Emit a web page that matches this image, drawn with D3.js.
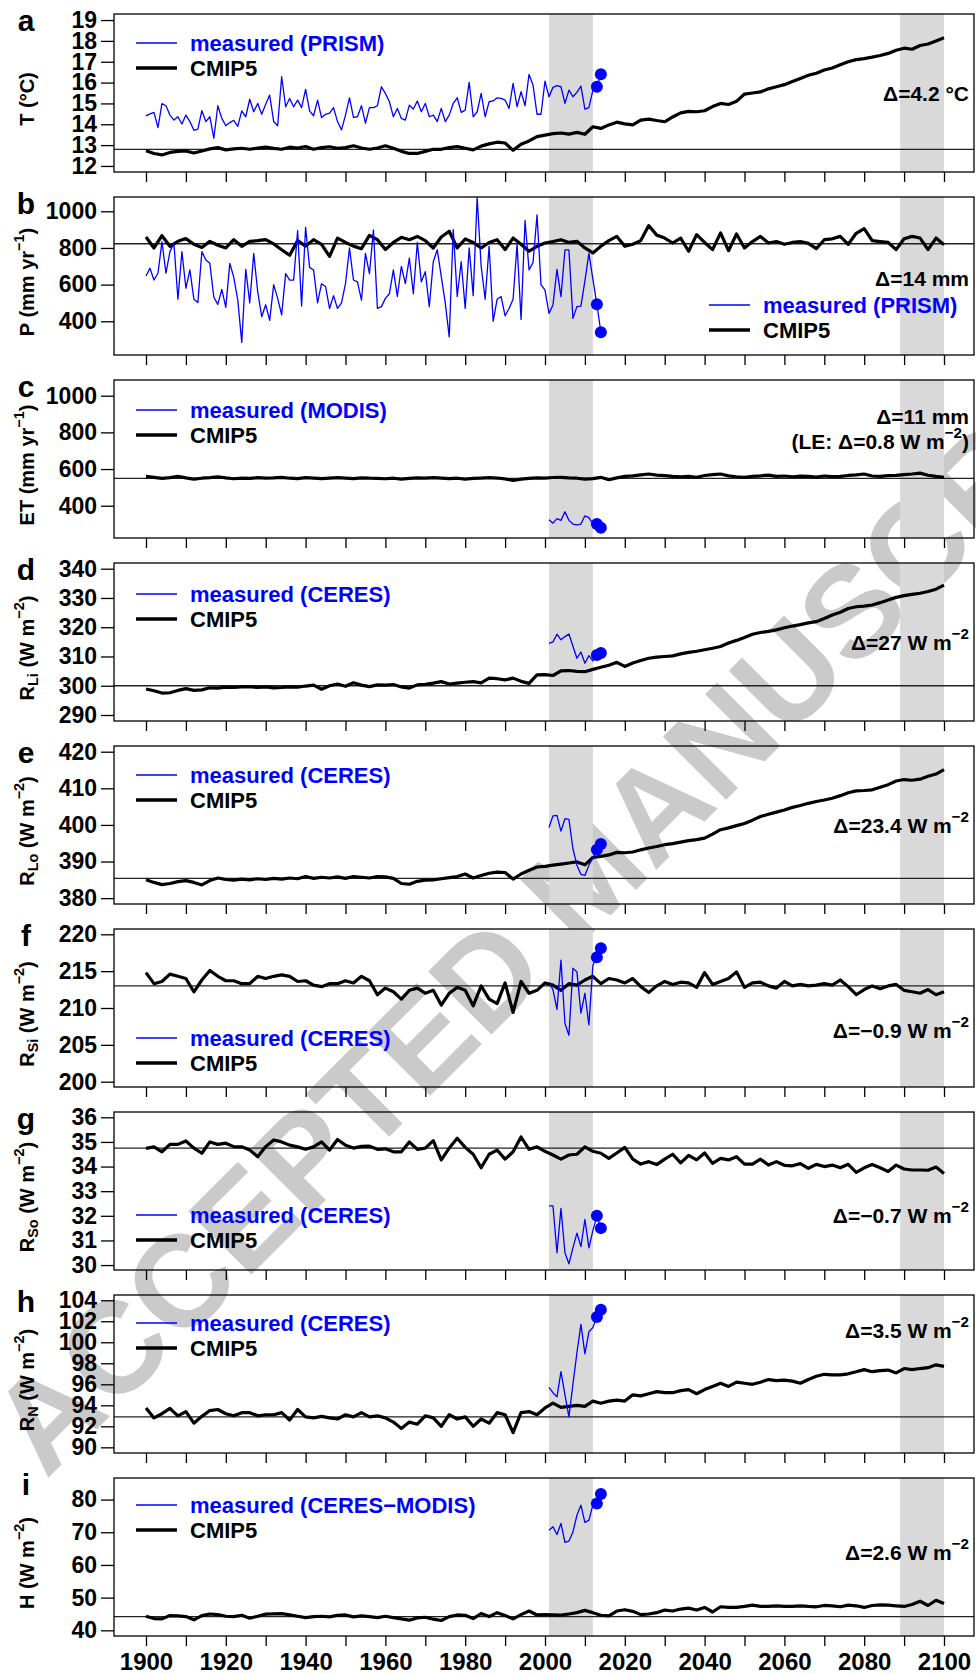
<!DOCTYPE html>
<html>
<head>
<meta charset="utf-8">
<script src="https://cdnjs.cloudflare.com/ajax/libs/d3/7.8.5/d3.min.js"></script>
<style>
  body { margin: 0; background: #fff; }
  svg { display: block; font-family: "Liberation Sans", Arial, sans-serif; }
</style>
</head>
<body>
<div id="chart"></div>
<script>
// ---------------- data ----------------
// CMIP5 ensemble, every second year 1900..2100
const cmipYears = d3.range(1900, 2101, 2);

const tempCmip = [
  12.73, 12.6, 12.53, 12.65, 12.7, 12.72, 12.62, 12.72, 12.82, 12.88,
  12.77, 12.82, 12.85, 12.8, 12.86, 12.9, 12.84, 12.8, 12.9, 12.86,
  12.93, 12.8, 12.88, 12.92, 12.85, 12.88, 12.97, 12.86, 12.8, 12.86,
  12.97, 12.85, 12.7, 12.6, 12.6, 12.7, 12.8, 12.8, 12.88, 12.93,
  12.85, 12.77, 12.95, 13.06, 13.14, 13.1, 12.75, 13.04, 13.2, 13.41,
  13.48, 13.55, 13.58, 13.53, 13.61, 13.52, 13.88, 13.8, 13.97, 14.1,
  14.02, 13.97, 14.2, 14.25, 14.18, 14.12, 14.35, 14.55, 14.62, 14.6,
  14.65, 14.85, 15.0, 14.95, 15.1, 15.45, 15.5, 15.55, 15.7, 15.8,
  15.9, 16.05, 16.2, 16.35, 16.45, 16.6, 16.7, 16.85, 17.0, 17.1,
  17.15, 17.22, 17.3, 17.4, 17.55, 17.65, 17.6, 17.78, 17.85, 18.0,
  18.15
];
const precipCmip = [
  860, 800, 867, 809, 836, 851, 820, 803, 836, 815,
  800, 845, 809, 836, 840, 845, 822, 790, 760, 840,
  810, 845, 820, 754, 854, 830, 810, 796, 869, 845,
  791, 830, 858, 845, 863, 840, 800, 860, 891, 800,
  849, 830, 800, 830, 845, 791, 854, 820, 782, 809,
  827, 835, 845, 830, 836, 800, 773, 809, 840, 863,
  809, 820, 840, 922, 870, 854, 827, 854, 782, 873,
  830, 791, 882, 785, 876, 800, 835, 863, 827, 835,
  820, 830, 835, 825, 796, 845, 850, 863, 820, 880,
  905, 840, 835, 830, 791, 850, 863, 854, 791, 854,
  818
];
const etCmip = [
  560, 555, 549, 553, 560, 552, 545, 550, 553, 558,
  552, 547, 551, 549, 553, 550, 552, 555, 550, 548,
  553, 551, 548, 551, 553, 551, 548, 552, 550, 549,
  547, 550, 545, 549, 552, 550, 553, 551, 548, 550,
  545, 549, 551, 553, 551, 546, 538, 545, 549, 552,
  551, 554, 555, 552, 550, 545, 548, 555, 542, 552,
  560, 563, 568, 573, 567, 564, 560, 558, 560, 555,
  565, 570, 573, 563, 558, 555, 560, 563, 567, 560,
  562, 558, 561, 560, 556, 562, 559, 560, 565, 568,
  573, 562, 560, 564, 566, 570, 573, 578, 566, 560,
  555
];
const rliCmip = [
  298.9, 298.3, 297.5, 297.6, 298.4, 299.0, 298.4, 298.6, 299.3, 299.2,
  299.5, 299.4, 299.6, 299.7, 299.4, 299.6, 299.3, 299.4, 299.6, 299.5,
  299.9, 300.2, 298.8, 300.0, 300.6, 299.8, 301.0, 300.2, 299.7, 300.3,
  300.2, 300.4, 299.6, 299.2, 300.3, 300.5, 300.9, 301.4, 300.6, 300.9,
  301.2, 301.4, 301.0, 302.6, 302.4, 302.0, 302.6, 301.5, 300.8, 303.7,
  303.8, 303.5, 305.1, 305.2, 304.9, 304.8, 305.6, 306.3, 307.0, 308.0,
  306.6, 307.8, 308.6, 309.4, 309.8, 310.0, 310.2, 310.9, 311.4, 311.8,
  312.3, 312.8, 313.4, 314.6, 315.5, 316.5, 317.6, 318.2, 318.6, 319.1,
  319.8, 320.4, 320.9, 321.5, 321.9, 323.0, 324.2, 325.1, 326.4, 327.0,
  327.2, 327.6, 328.4, 329.3, 330.2, 330.8, 331.2, 331.6, 332.2, 333.0,
  334.4
];
const rloCmip = [
  385.0, 384.3, 383.7, 384.0, 384.5, 384.8, 384.3, 383.6, 384.8, 385.5,
  385.1, 384.9, 385.2, 385.0, 385.3, 385.1, 385.4, 385.2, 385.5, 385.3,
  385.9, 385.4, 385.7, 385.5, 385.8, 385.4, 385.9, 385.7, 385.5, 385.9,
  385.8, 385.4, 384.0, 383.8, 384.6, 384.9, 385.0, 385.3, 385.6, 385.9,
  386.6, 385.5, 386.2, 386.8, 387.1, 387.0, 385.2, 386.6, 387.6, 388.5,
  388.7, 389.0, 389.3, 389.6, 389.9, 389.1, 391.1, 391.4, 391.8, 392.5,
  392.4, 392.6, 393.2, 393.7, 394.1, 394.6, 394.9, 395.3, 395.7, 396.0,
  396.4, 397.5, 398.7, 399.2, 399.8, 400.4, 401.3, 402.3, 402.9, 403.5,
  404.1, 404.8, 405.3, 405.9, 406.4, 406.8, 407.3, 408.0, 408.8, 409.3,
  409.4, 409.6, 410.3, 411.0, 412.0, 412.4, 412.2, 412.5, 413.3, 413.9,
  415.1
];
const rsiCmip = [
  214.8, 213.3, 213.6, 214.6, 214.3, 214.0, 212.2, 213.8, 215.1, 214.3,
  213.7, 213.7, 213.3, 213.3, 214.3, 214.0, 214.3, 214.5, 214.3, 213.6,
  213.7, 213.1, 212.9, 213.3, 213.3, 213.7, 213.4, 214.3, 213.7, 211.8,
  212.7, 212.2, 211.2, 212.4, 212.7, 212.0, 212.4, 210.4, 212.0, 212.8,
  212.4, 210.3, 213.0, 211.2, 210.6, 213.4, 209.4, 213.6, 212.0, 212.4,
  213.4, 213.1, 212.4, 213.3, 213.1, 213.8, 214.3, 213.3, 214.0, 213.8,
  213.4, 214.0, 212.9, 212.1, 213.0, 213.6, 213.2, 213.5, 213.4, 212.8,
  214.8, 213.2, 213.6, 214.0, 214.9, 212.8, 213.4, 213.5, 213.0, 212.7,
  213.6, 213.0, 213.2, 213.0, 213.1, 213.3, 213.1, 213.8, 212.9, 211.8,
  212.5, 213.0, 212.6, 213.0, 213.2, 212.4, 212.2, 212.0, 212.5, 211.8,
  212.2
];
const rsoCmip = [
  34.74, 34.8, 34.6, 34.9, 34.9, 35.04, 34.75, 34.54, 35.0, 34.9,
  34.95, 34.81, 34.8, 34.67, 34.4, 34.81, 35.08, 35.0, 34.87, 34.8,
  34.7, 34.8, 35.0, 34.67, 35.1, 34.87, 34.75, 34.82, 34.83, 34.7,
  34.72, 34.6, 34.6, 35.0, 34.7, 34.75, 35.05, 34.27, 34.75, 35.15,
  34.78, 34.5, 33.95, 34.5, 34.67, 34.3, 34.6, 35.2, 34.7, 34.8,
  34.62, 34.47, 34.3, 34.47, 34.5, 34.8, 34.62, 34.54, 34.33, 34.55,
  34.78, 34.3, 34.1, 34.2, 34.08, 34.3, 34.5, 34.15, 34.45, 34.27,
  34.55, 34.13, 34.33, 34.27, 34.4, 34.1, 34.1, 34.3, 34.06, 34.2,
  34.05, 34.03, 34.12, 33.93, 34.09, 34.0, 34.06, 33.95, 34.09, 33.76,
  33.95, 34.08, 33.95, 33.8, 34.06, 33.9, 33.86, 33.86, 33.85, 33.98,
  33.72
];
const rnCmip = [
  93.75, 92.8, 93.2, 93.7, 93.0, 93.4, 92.3, 92.95, 93.5, 93.6,
  93.2, 93.0, 93.3, 93.3, 93.0, 93.1, 93.1, 93.3, 92.6, 93.6,
  92.9, 92.8, 92.95, 92.8, 92.7, 93.1, 92.9, 93.3, 92.9, 93.0,
  92.8, 92.4, 91.8, 92.4, 92.2, 93.0, 92.8, 92.0, 93.1, 92.7,
  92.9, 92.0, 92.7, 92.3, 93.3, 93.1, 91.4, 93.3, 93.4, 93.1,
  93.75, 94.2, 93.8, 93.9, 94.0, 93.9, 94.4, 94.2, 94.4, 94.5,
  94.4, 95.0, 94.9, 95.1, 95.3, 95.2, 95.2, 95.4, 95.5, 95.1,
  95.5, 95.8, 96.1, 95.8, 96.2, 96.1, 96.0, 96.2, 96.45, 96.35,
  96.4, 96.3, 96.1, 96.45, 96.76, 96.95, 96.9, 96.9, 97.0, 97.2,
  97.4, 97.2, 97.3, 97.35, 97.08, 97.5, 97.4, 97.5, 97.58, 97.85,
  97.7
];
const hCmip = [
  44.3, 43.6, 43.5, 44.5, 44.4, 44.2, 43.2, 44.5, 45.0, 44.8,
  44.3, 44.2, 44.6, 43.7, 44.3, 44.95, 45.0, 45.1, 44.7, 44.3,
  43.9, 44.2, 44.3, 44.1, 44.6, 44.7, 44.1, 44.4, 44.2, 43.9,
  44.3, 43.9, 43.5, 43.1, 43.8, 44.0, 43.4, 43.0, 44.2, 44.7,
  44.6, 43.6, 45.15, 44.2, 45.4, 44.5, 43.5, 44.8, 45.9, 44.7,
  44.8, 44.7, 44.65, 45.0, 45.4, 46.1, 45.4, 44.6, 44.4, 45.9,
  46.3, 45.8, 44.8, 45.0, 45.4, 46.2, 45.9, 46.5, 46.8, 46.2,
  47.0, 45.6, 47.2, 47.0, 47.0, 47.3, 47.7, 47.3, 47.3, 47.5,
  47.3, 47.3, 47.5, 47.3, 47.2, 47.6, 47.5, 47.2, 47.7, 47.5,
  47.0, 47.6, 47.8, 47.7, 47.5, 47.3, 47.9, 48.9, 47.6, 49.2,
  48.2
];

// measured series; the last two years are also drawn as dots
const prismYears = d3.range(1900, 2015);
const satYears = d3.range(2001, 2015);

const tempMeas = [
  14.40, 14.5, 14.57, 13.84, 14.99, 14.89, 14.44, 14.20, 14.36, 14.01,
  14.44, 14.13, 13.71, 13.77, 14.65, 14.13, 14.36, 13.33, 14.89, 14.28,
  13.93, 14.08, 14.19, 13.90, 14.64, 14.36, 15.2, 14.6, 15.0, 14.48,
  14.96, 15.4, 14.13, 13.93, 16.28, 14.84, 15.24, 14.84, 15.16, 14.8,
  15.67, 14.64, 14.41, 15.16, 14.32, 14.48, 14.53, 14.8, 14.13, 13.73,
  14.44, 15.27, 14.33, 14.36, 14.89, 14.05, 14.8, 14.8, 14.89, 15.8,
  15.48, 15.08, 14.36, 14.76, 14.28, 14.2, 14.92, 14.73, 15.12, 14.6,
  15.0, 14.36, 14.44, 14.13, 14.76, 14.13, 14.44, 15.0, 15.27, 14.57,
  14.68, 16.01, 14.36, 14.6, 15.48, 14.36, 15.08, 15.12, 15.27, 15.24,
  15.16, 14.76, 15.96, 14.84, 15.56, 14.89, 16.39, 15.88, 14.48, 14.48,
  16.07, 15.32, 15.77, 15.85, 15.8, 15.0, 15.64, 15.32, 15.53, 15.83,
  14.73, 14.8, 15.64, 15.8, 16.4
];
const precipMeas = [
  647, 689, 625, 662, 834, 662, 780, 825, 520, 780,
  580, 680, 520, 502, 780, 734, 716, 531, 492, 574,
  476, 716, 640, 516, 285, 683, 500, 770, 560, 425,
  490, 405, 600, 525, 435, 660, 625, 625, 894, 483,
  912, 694, 680, 500, 605, 590, 470, 540, 470, 500,
  605, 800, 625, 615, 515, 770, 660, 898, 470, 480,
  525, 550, 680, 535, 700, 605, 745, 550, 830, 615,
  670, 480, 725, 790, 645, 500, 315, 900, 535, 725,
  470, 800, 540, 1075, 700, 520, 810, 400, 520, 535,
  430, 470, 520, 820, 410, 950, 680, 720, 980, 600,
  570, 443, 489, 683, 534, 789, 789, 416, 480, 483,
  620, 770, 630, 493, 340
];
const etMeas  = [324, 305, 330, 320, 367, 320, 300, 295, 300, 345, 335, 300, 300, 280];
const rliMeas = [314.5, 315, 317.6, 315.7, 316.8, 317.7, 313.5, 309.4, 311.5, 307.7, 310.3, 308.5, 310.5, 311.2];
const rloMeas = [399.3, 402.5, 402.6, 398.3, 401.7, 401.5, 393.5, 389.0, 386.5, 386.2, 389.0, 391.0, 393.2, 394.8];
const rsiMeas = [213.5, 212.5, 209.8, 216.5, 207.9, 206.3, 215.4, 214.9, 209.3, 212.0, 207.7, 215.8, 216.9, 218.1];
const rsoMeas = [32.4, 32.4, 30.5, 32.3, 30.5, 30.05, 30.7, 31.3, 30.75, 31.85, 30.7, 31.4, 32.0, 31.5];
const rnMeas  = [95.7, 95.2, 94.8, 97.2, 95.0, 92.9, 96.0, 99.0, 101.7, 98.9, 101.0, 101.4, 102.4, 103.1];
const hMeas   = [70.6, 71.7, 69.3, 72.7, 66.9, 67.3, 70.1, 75.2, 78.3, 73.0, 73.7, 78.3, 78.8, 81.7];

// horizontal reference level of each panel
const refLevels = [12.8, 823, 549, 300, 385.4, 213.0, 34.75, 92.9, 44.2];

// axis ranges and tick labels
const yRanges = [
  [11.71, 19.29], [216, 1078], [224, 1085.6], [287.95, 341.95], [378.4, 421.56],
  [199.28, 220.72], [29.8, 36.215], [89.46, 104.5], [38.26, 86.6]
];
const yTickLabels = [
  [12, 13, 14, 15, 16, 17, 18, 19],
  [400, 600, 800, 1000],
  [400, 600, 800, 1000],
  [290, 300, 310, 320, 330, 340],
  [380, 390, 400, 410, 420],
  [200, 205, 210, 215, 220],
  [30, 31, 32, 33, 34, 35, 36],
  [90, 92, 94, 96, 98, 100, 102, 104],
  [40, 50, 60, 70, 80]
];
const xTickYears = d3.range(1900, 2101, 10);
const xLabelYears = d3.range(1900, 2101, 20);
const shadedPeriods = [[2001, 2012], [2089, 2100]];

// texts ("sup"/"sub" mark raised / lowered parts)
const panelLetters = ["a", "b", "c", "d", "e", "f", "g", "h", "i"];
const yTitles = [
  [["T (°C)"]],
  [["P (mm yr"], ["−1", "sup"], [")"]],
  [["ET (mm yr"], ["−1", "sup"], [")"]],
  [["R"], ["Li", "sub"], [" (W m"], ["−2", "sup"], [")"]],
  [["R"], ["Lo", "sub"], [" (W m"], ["−2", "sup"], [")"]],
  [["R"], ["Si", "sub"], [" (W m"], ["−2", "sup"], [")"]],
  [["R"], ["So", "sub"], [" (W m"], ["−2", "sup"], [")"]],
  [["R"], ["N", "sub"], [" (W m"], ["−2", "sup"], [")"]],
  [["H (W m"], ["−2", "sup"], [")"]]
];
const sourceNames = ["PRISM", "PRISM", "MODIS", "CERES", "CERES", "CERES", "CERES", "CERES", "CERES−MODIS"];
const deltaTexts = [
  [[["Δ=4.2 °C"]]],
  [[["Δ=14 mm"]]],
  [[["Δ=11 mm"]], [["(LE: Δ=0.8 W m"], ["−2", "sup"], [")"]]],
  [[["Δ=27 W m"], ["−2", "sup"]]],
  [[["Δ=23.4 W m"], ["−2", "sup"]]],
  [[["Δ=−0.9 W m"], ["−2", "sup"]]],
  [[["Δ=−0.7 W m"], ["−2", "sup"]]],
  [[["Δ=3.5 W m"], ["−2", "sup"]]],
  [[["Δ=2.6 W m"], ["−2", "sup"]]]
];

const cmipSeries = [tempCmip, precipCmip, etCmip, rliCmip, rloCmip, rsiCmip, rsoCmip, rnCmip, hCmip];
const measSeries = [tempMeas, precipMeas, etMeas, rliMeas, rloMeas, rsiMeas, rsoMeas, rnMeas, hMeas];
const measYears = [prismYears, prismYears, satYears, satYears, satYears, satYears, satYears, satYears, satYears];

// ---------------- layout ----------------
const W = 976, H = 1674;
const plotLeft = 114, plotRight = 974;
const firstTop = 14, panelStep = 183, panelH = 158;
// legend corner and offsets of the delta label, per panel
const legendCorner = ["tl", "br", "tl", "tl", "tl", "bl", "bl", "tl", "tl"];
const legendRowY = [29, 108, 30, 31, 29, 109, 103, 28, 27];
const deltaRowY = [79, 81, 36, 79, 79, 101, 103, 35, 74];

const blue = "#0000ff";
const bandFill = "#d9d9d9";
const fontStack = "Liberation Sans, Arial, sans-serif";

const svg = d3.select("#chart").append("svg")
  .attr("width", W)
  .attr("height", H);

svg.append("rect").attr("width", W).attr("height", H).attr("fill", "#fff");

// watermark stamp of the manuscript, underneath the plot content
svg.append("text")
  .attr("transform", "translate(46,1480) rotate(-45)")
  .attr("font-size", 130)
  .attr("font-weight", "bold")
  .attr("fill", "#cacaca")
  .text("ACCEPTED MANUSCRIPT");

const x = d3.scaleLinear().domain([1900, 2100]).range([146, 944]);

// writes text pieces with raised / lowered parts into a <text>
function richText(sel, pieces, fs) {
  let shift = 0;
  pieces.forEach(([s, kind]) => {
    const target = kind === "sup" ? -0.42 * fs : kind === "sub" ? 0.28 * fs : 0;
    sel.append("tspan")
      .attr("dy", target - shift)
      .attr("font-size", kind ? fs * 0.72 : fs)
      .text(s);
    shift = target;
  });
}

cmipSeries.forEach((cmip, i) => {
  const top = firstTop + panelStep * i;
  const bottom = top + panelH;
  const y = d3.scaleLinear().domain(yRanges[i]).range([bottom, top]);
  const g = svg.append("g");

  // shaded periods
  g.selectAll("rect.band").data(shadedPeriods).join("rect")
    .attr("class", "band")
    .attr("x", d => x(d[0]))
    .attr("width", d => x(d[1]) - x(d[0]))
    .attr("y", top)
    .attr("height", panelH)
    .attr("fill", bandFill);

  // reference level
  g.append("line")
    .attr("x1", plotLeft).attr("x2", plotRight)
    .attr("y1", y(refLevels[i])).attr("y2", y(refLevels[i]))
    .attr("stroke", "#222").attr("stroke-width", 1.3);

  // CMIP5 line
  const cmipLine = d3.line()
    .x((d, j) => x(cmipYears[j]))
    .y(d => y(d));
  g.append("path")
    .datum(cmip)
    .attr("d", cmipLine)
    .attr("fill", "none")
    .attr("stroke", "#000")
    .attr("stroke-width", 3.2)
    .attr("stroke-linejoin", "round");

  // measured line and last two years as dots
  const yrs = measYears[i];
  const meas = measSeries[i];
  const measLine = d3.line()
    .x((d, j) => x(yrs[j]))
    .y(d => y(d));
  g.append("path")
    .datum(meas)
    .attr("d", measLine)
    .attr("fill", "none")
    .attr("stroke", blue)
    .attr("stroke-width", 1.3)
    .attr("stroke-linejoin", "round");
  g.selectAll("circle").data(meas.slice(-2)).join("circle")
    .attr("cx", (d, j) => x(yrs[yrs.length - 2 + j]))
    .attr("cy", d => y(d))
    .attr("r", 6)
    .attr("fill", blue);

  // frame
  g.append("rect")
    .attr("x", plotLeft).attr("y", top)
    .attr("width", plotRight - plotLeft).attr("height", panelH)
    .attr("fill", "none").attr("stroke", "#000").attr("stroke-width", 1.3);

  // y axis
  const yAxis = g.append("g")
    .attr("transform", `translate(${plotLeft},0)`)
    .call(d3.axisLeft(y).tickValues(yTickLabels[i]).tickSize(13).tickPadding(4)
      .tickFormat(d => String(d)));
  yAxis.select(".domain").remove();
  yAxis.selectAll("line").attr("stroke", "#000").attr("stroke-width", 1.3);
  yAxis.selectAll("text")
    .attr("font-size", 23).attr("font-weight", "bold")
    .attr("font-family", fontStack)
    .attr("fill", "#000");

  // x axis ticks under every panel, labels only under the last one
  const last = i === cmipSeries.length - 1;
  const xAxis = g.append("g")
    .attr("transform", `translate(0,${bottom})`)
    .call(d3.axisBottom(x).tickValues(xTickYears).tickSize(10).tickPadding(7)
      .tickFormat(d => (last && xLabelYears.includes(d)) ? String(d) : ""));
  xAxis.select(".domain").remove();
  xAxis.selectAll("line").attr("stroke", "#000").attr("stroke-width", 1.3);
  xAxis.selectAll("text")
    .attr("font-size", 24).attr("font-weight", "bold")
    .attr("font-family", fontStack)
    .attr("fill", "#000");

  // y title
  const title = g.append("text")
    .attr("transform", `translate(27,${top + panelH / 2 + 6}) rotate(-90)`)
    .attr("text-anchor", "middle")
    .attr("dominant-baseline", "central")
    .attr("font-weight", "bold")
    .attr("font-size", 20);
  richText(title, yTitles[i], 20);

  // panel letter
  g.append("text")
    .attr("x", 26).attr("y", top + 6)
    .attr("text-anchor", "middle")
    .attr("dominant-baseline", "central")
    .attr("font-size", 30).attr("font-weight", "bold")
    .text(panelLetters[i]);

  // legend
  const corner = legendCorner[i];
  const lx0 = corner === "br" ? 709 : 136;
  const rows = [
    { label: `measured (${sourceNames[i]})`, color: blue, width: 1.5 },
    { label: "CMIP5", color: "#000", width: 3.6 }
  ];
  rows.forEach((r, k) => {
    const ly = top + legendRowY[i] + k * 25;
    g.append("line")
      .attr("x1", lx0).attr("x2", lx0 + 41)
      .attr("y1", ly).attr("y2", ly)
      .attr("stroke", r.color).attr("stroke-width", r.width);
    g.append("text")
      .attr("x", lx0 + 54).attr("y", ly)
      .attr("dominant-baseline", "central")
      .attr("font-size", 22).attr("font-weight", "bold")
      .attr("fill", r.color)
      .text(r.label);
  });

  // delta label(s)
  deltaTexts[i].forEach((line, k) => {
    const t = g.append("text")
      .attr("x", 969).attr("y", top + deltaRowY[i] + k * 25)
      .attr("text-anchor", "end")
      .attr("dominant-baseline", "central")
      .attr("font-weight", "bold")
      .attr("font-size", 21);
    richText(t, line, 21);
  });
});
</script>
</body>
</html>
